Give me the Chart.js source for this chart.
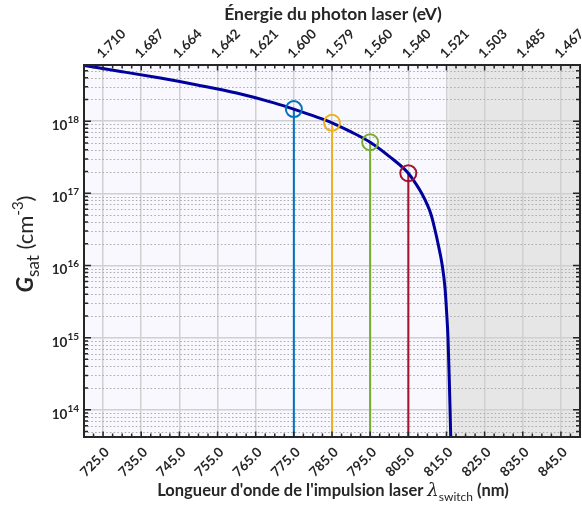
<!DOCTYPE html>
<html><head><meta charset="utf-8">
<script src="https://cdn.jsdelivr.net/npm/chart.js@4/dist/chart.umd.min.js"></script>
<style>html,body{margin:0;padding:0;background:#fff;overflow:hidden}#wrap{position:relative;width:582px;height:510px}</style>
</head><body><div id="wrap"><canvas id="c" width="582" height="510"></canvas></div>
<script>
// ---- data ----
const curveWavelength = [720, 730, 740, 750, 760, 770, 775, 780, 785, 790, 795, 800, 805, 807, 808.5, 810, 811, 812, 812.8, 813.9, 814.6, 815.1, 815.4, 815.75, 815.95, 816.15];
const curveGsat = [5.9e18, 4.85e18, 3.95e18, 3.15e18, 2.45e18, 1.78e18, 1.47e18, 1.19e18, 9.5e17, 7.1e17, 5.1e17, 3.25e17, 1.9e17, 1.35e17, 1.0e17, 6.9e16, 5.0e16, 3.1e16, 2.0e16, 1.0e16, 5.0e15, 2.0e15, 1.0e15, 2.5e14, 1.0e14, 3.5e13];
const markerWavelength = [775, 785, 795, 805];
const markerGsat = [1.47e18, 9.5e17, 5.1e17, 1.9e17];
const markerColors = ['#0072BD', '#EDB120', '#77AC30', '#A2142F'];
const bottomTickValues = [725, 735, 745, 755, 765, 775, 785, 795, 805, 815, 825, 835, 845];
const bottomTickLabels = ['725.0', '735.0', '745.0', '755.0', '765.0', '775.0', '785.0', '795.0', '805.0', '815.0', '825.0', '835.0', '845.0'];
const topTickLabels = ['1.710', '1.687', '1.664', '1.642', '1.621', '1.600', '1.579', '1.560', '1.540', '1.521', '1.503', '1.485', '1.467'];
const yDecades = [1e14, 1e15, 1e16, 1e17, 1e18];
const yDecadeExponents = ['14', '15', '16', '17', '18'];
const shadedRange = [815.5, 850];
const xRange = [720, 850];
const yRange = [4.2e13, 6e18];

const INK = '#262626';
const FONT = 'Lato, "Open Sans", sans-serif';

function isDecade(v) { const l = Math.log10(v); return Math.abs(l - Math.round(l)) < 1e-6; }

const deco = {
  id: 'deco',
  beforeDraw(chart) {
    const { ctx, chartArea: a, scales: { x } } = chart;
    ctx.save();
    ctx.fillStyle = '#f8f8fe';
    ctx.fillRect(a.left, a.top, a.width, a.height);
    const xs = x.getPixelForValue(shadedRange[0]);
    const xe = x.getPixelForValue(shadedRange[1]);
    ctx.fillStyle = '#e6e6e6';
    ctx.fillRect(xs, a.top, xe - xs, a.height);
    ctx.restore();
  },
  beforeDatasetsDraw(chart) {
    const { ctx, chartArea: a, scales: { y } } = chart;
    ctx.save();
    ctx.strokeStyle = '#aaaaaa';
    ctx.lineWidth = 1.2;
    ctx.setLineDash([1.5, 2.2]);
    for (let e = 13; e <= 18; e++) {
      for (let m = 2; m <= 9; m++) {
        const v = m * Math.pow(10, e);
        if (v < yRange[0] || v > yRange[1]) continue;
        const py = Math.round(y.getPixelForValue(v)) + 0.5;
        ctx.beginPath(); ctx.moveTo(a.left, py); ctx.lineTo(a.right, py); ctx.stroke();
      }
    }
    ctx.restore();
  },
  afterDatasetsDraw(chart) {
    const { ctx, chartArea: a, scales: { x, y } } = chart;
    ctx.save();
    // inward ticks
    ctx.strokeStyle = INK; ctx.lineWidth = 1.5;
    for (let v = 720; v <= 850.001; v += 2.5) {
      const px = x.getPixelForValue(v);
      const major = bottomTickValues.includes(v);
      const len = major ? 5.5 : 3.5;
      ctx.beginPath();
      ctx.moveTo(px, a.bottom); ctx.lineTo(px, a.bottom - len);
      ctx.moveTo(px, a.top); ctx.lineTo(px, a.top + len);
      ctx.stroke();
    }
    for (let e = 13; e <= 18; e++) {
      for (let m = 1; m <= 9; m++) {
        const v = m * Math.pow(10, e);
        if (v < yRange[0] || v > yRange[1]) continue;
        const py = y.getPixelForValue(v);
        const len = m === 1 ? 7 : 4;
        ctx.beginPath();
        ctx.moveTo(a.left, py); ctx.lineTo(a.left + len, py);
        ctx.moveTo(a.right, py); ctx.lineTo(a.right - len, py);
        ctx.stroke();
      }
    }
    // box
    ctx.lineWidth = 2;
    ctx.strokeRect(a.left, a.top, a.width, a.height);

    ctx.fillStyle = INK;
    ctx.font = 'bold 13.5px ' + FONT;
    ctx.textBaseline = 'middle';
    // top tick labels (photon energy), rotated 45 degrees
    ctx.textAlign = 'left';
    bottomTickValues.forEach((v, i) => {
      const px = x.getPixelForValue(v);
      ctx.save();
      ctx.translate(px - 4, a.top - 9);
      ctx.rotate(-Math.PI / 4);
      ctx.fillText(topTickLabels[i], 0, 0);
      ctx.restore();
    });
    // bottom tick labels (wavelength), rotated 45 degrees
    ctx.textAlign = 'right';
    bottomTickValues.forEach((v, i) => {
      const px = x.getPixelForValue(v);
      ctx.save();
      ctx.translate(px + 4, a.bottom + 13);
      ctx.rotate(-Math.PI / 4);
      ctx.fillText(bottomTickLabels[i], 0, 0);
      ctx.restore();
    });

    // y tick labels 10^n
    ctx.textBaseline = 'alphabetic';
    ctx.textAlign = 'left';
    yDecades.forEach((d, i) => {
      const py = y.getPixelForValue(d);
      ctx.font = 'bold 13.5px ' + FONT;
      const w1 = ctx.measureText('10').width;
      ctx.font = 'bold 10px ' + FONT;
      const w2 = ctx.measureText(yDecadeExponents[i]).width;
      const x0 = 79 - w1 - w2;
      ctx.font = 'bold 13.5px ' + FONT;
      ctx.fillText('10', x0, py + 9);
      ctx.font = 'bold 10px ' + FONT;
      ctx.fillText(yDecadeExponents[i], x0 + w1, py + 2);
    });

    // top title
    ctx.textAlign = 'center';
    ctx.font = 'bold 17.5px ' + FONT;
    ctx.fillText('Énergie du photon laser (eV)', 333, 20);

    // bottom title with subscript
    const parts = [
      { t: "Longueur d'onde de l'impulsion laser ", f: 'bold 16.5px ' + FONT, dy: 0 },
      { t: 'λ', f: 'italic 18px "DejaVu Serif", serif', dy: 0 },
      { t: 'switch', f: '12px ' + FONT, dy: 5 },
      { t: ' (nm)', f: 'bold 16.5px ' + FONT, dy: 0 }
    ];
    drawParts(ctx, parts, 333, 496);

    // y title, rotated
    ctx.translate(33, 244);
    ctx.rotate(-Math.PI / 2);
    const yparts = [
      { t: 'G', f: 'italic bold 23px ' + FONT, dy: 0 },
      { t: 'sat', f: '17px ' + FONT, dy: 6 },
      { t: ' (cm', f: '22px ' + FONT, dy: 0 },
      { t: '-3', f: '15px ' + FONT, dy: -10 },
      { t: ')', f: '22px ' + FONT, dy: 0 }
    ];
    drawParts(ctx, yparts, 0, 0);
    ctx.restore();
  }
};

function drawParts(ctx, parts, cx, by) {
  ctx.textAlign = 'left';
  let total = 0;
  parts.forEach(p => { ctx.font = p.f; p.w = ctx.measureText(p.t).width; total += p.w; });
  let xx = cx - total / 2;
  parts.forEach(p => { ctx.font = p.f; ctx.fillText(p.t, xx, by + p.dy); xx += p.w; });
}

function build() {
  const datasets = [];
  markerWavelength.forEach((w, i) => {
    datasets.push({
      data: [{ x: w, y: markerGsat[i] }, { x: w, y: yRange[0] }],
      borderColor: markerColors[i], borderWidth: 2, pointRadius: 0, clip: 0, order: 3, xAxisID: 'x', yAxisID: 'y'
    });
  });
  datasets.push({
    data: curveWavelength.map((v, i) => ({ x: v, y: curveGsat[i] })),
    borderColor: '#00009C', borderWidth: 3, pointRadius: 0, cubicInterpolationMode: 'monotone', clip: 0, order: 2, xAxisID: 'x', yAxisID: 'y'
  });
  markerWavelength.forEach((w, i) => {
    datasets.push({
      data: [{ x: w, y: markerGsat[i] }], showLine: false,
      pointRadius: 8, pointBorderWidth: 2, pointBorderColor: markerColors[i], pointBackgroundColor: 'rgba(0,0,0,0)', order: 1, xAxisID: 'x', yAxisID: 'y'
    });
  });

  new Chart(document.getElementById('c'), {
    type: 'line',
    data: { datasets },
    plugins: [deco],
    options: {
      responsive: false, animation: false, devicePixelRatio: 1,
      layout: { autoPadding: false, padding: { left: 0, right: 2, top: 0, bottom: 0 } },
      plugins: { legend: { display: false }, tooltip: { enabled: false } },
      scales: {
        x: {
          type: 'linear', position: 'bottom', min: xRange[0], max: xRange[1],
          afterBuildTicks: s => { s.ticks = bottomTickValues.map(v => ({ value: v })); },
          afterFit: s => { s.height = 73; },
          ticks: { display: false, autoSkip: false },
          grid: { color: '#d0d0d0', lineWidth: 1.5, drawTicks: false },
          border: { display: false }
        },
        x2: {
          type: 'linear', position: 'top', axis: 'x', min: xRange[0], max: xRange[1],
          afterFit: s => { s.height = 65; },
          ticks: { display: false },
          grid: { drawOnChartArea: false, drawTicks: false },
          border: { display: false }
        },
        y: {
          type: 'logarithmic', position: 'left', min: yRange[0], max: yRange[1],
          afterFit: s => { s.width = 84; },
          ticks: { display: false },
          grid: { drawTicks: false, lineWidth: 1.5, color: c => (c.tick && isDecade(c.tick.value)) ? '#d0d0d0' : 'rgba(0,0,0,0)' },
          border: { display: false }
        }
      }
    }
  });
}

if (document.fonts && document.fonts.load) {
  Promise.all([document.fonts.load('bold 13px Lato'), document.fonts.load('17px Lato'), document.fonts.load('italic bold 22px Lato')])
    .then(build, build);
} else { build(); }
</script></body></html>
